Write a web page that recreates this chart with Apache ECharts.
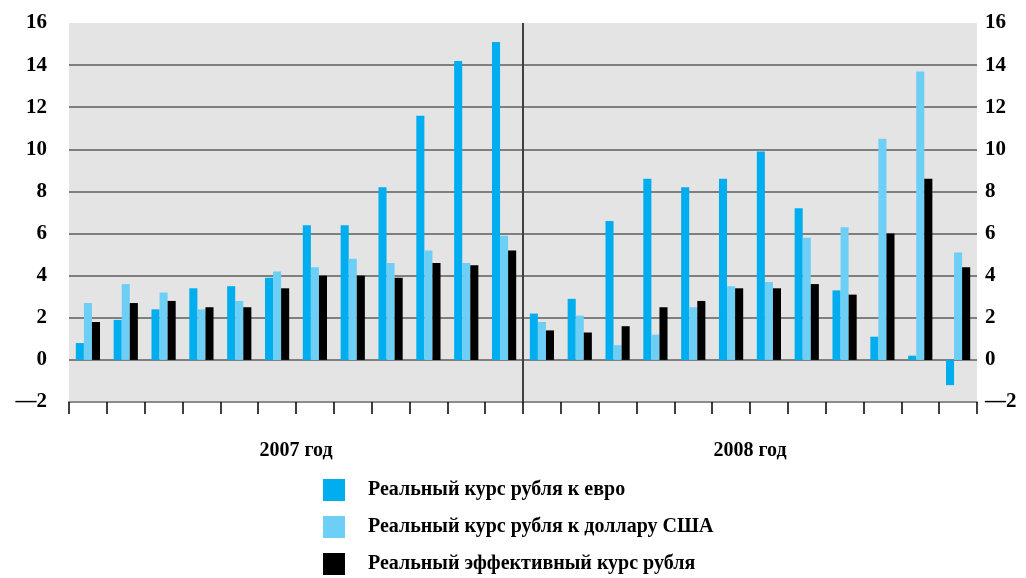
<!DOCTYPE html>
<html>
<head>
<meta charset="utf-8">
<script src="https://cdn.jsdelivr.net/npm/echarts@6/dist/echarts.min.js"></script>
<style>
  html, body { margin: 0; padding: 0; background: #fff; }
  #chart { width: 1026px; height: 578px; }
</style>
</head>
<body>
<div id="chart"></div>
<script>
// месяцы 2007–2008
const months = [
  "янв.07", "фев.07", "мар.07", "апр.07", "май.07", "июн.07",
  "июл.07", "авг.07", "сен.07", "окт.07", "ноя.07", "дек.07",
  "янв.08", "фев.08", "мар.08", "апр.08", "май.08", "июн.08",
  "июл.08", "авг.08", "сен.08", "окт.08", "ноя.08", "дек.08"
];
const years = ["2007 год", "2008 год"];
const seriesNames = [
  "Реальный курс рубля к евро",
  "Реальный курс рубля к доллару США",
  "Реальный эффективный курс рубля"
];
const euro = [0.8, 1.9, 2.4, 3.4, 3.5, 3.9, 6.4, 6.4, 8.2, 11.6, 14.2, 15.1,
  2.2, 2.9, 6.6, 8.6, 8.2, 8.6, 9.9, 7.2, 3.3, 1.1, 0.2, -1.2];
const usd = [2.7, 3.6, 3.2, 2.4, 2.8, 4.2, 4.4, 4.8, 4.6, 5.2, 4.6, 5.9,
  1.8, 2.1, 0.7, 1.2, 2.5, 3.5, 3.7, 5.8, 6.3, 10.5, 13.7, 5.1];
const effective = [1.8, 2.7, 2.8, 2.5, 2.5, 3.4, 4.0, 4.0, 3.9, 4.6, 4.5, 5.2,
  1.4, 1.3, 1.6, 2.5, 2.8, 3.4, 3.4, 3.6, 3.1, 6.0, 8.6, 4.4];

const colors = ["#00aeef", "#6dcff6", "#000000"];
const font = "'Liberation Serif', 'DejaVu Serif', serif";

let chart = echarts.init(document.getElementById("chart"));

const yLabel = {
  fontFamily: font,
  fontWeight: "bold",
  fontSize: 21,
  color: "#000",
  formatter: function (v) { return v < 0 ? "—" + Math.abs(v) : String(v); }
};

// серые линии сетки, кроме верхней (16)
const gridColors = ["#8c8c8c", "#7f7f7f", "#7f7f7f", "#7f7f7f", "#7f7f7f",
  "#7f7f7f", "#7f7f7f", "#7f7f7f", "#7f7f7f", "rgba(0,0,0,0)"];

chart.setOption({
  animation: false,
  color: colors,
  textStyle: { fontFamily: font },
  grid: {
    left: 69, right: 49, top: 23, bottom: 176,
    show: true, backgroundColor: "#e4e4e4", borderWidth: 0, borderColor: "rgba(0,0,0,0)"
  },
  legend: {
    orient: "vertical",
    left: 323, top: 479, height: 110,
    padding: 0,
    itemWidth: 22, itemHeight: 22, itemGap: 15,
    icon: "rect",
    textStyle: { fontFamily: font, fontWeight: "bold", fontSize: 20, color: "#000", padding: [0, 0, 0, 18] },
    data: seriesNames
  },
  xAxis: [
    {
      type: "category",
      data: months,
      axisLine: { onZero: false, lineStyle: { color: "#8c8c8c", width: 2 } },
      axisTick: { show: true, interval: 0, inside: false, length: 12, lineStyle: { color: "#000", width: 1.5 } },
      axisLabel: { show: false, interval: 0 },
      splitLine: { show: false }
    },
    {
      type: "category",
      data: years,
      position: "bottom",
      axisLine: { show: false },
      axisTick: { show: false },
      axisLabel: {
        margin: 39,
        fontFamily: font, fontWeight: "bold", fontSize: 20, color: "#000"
      }
    }
  ],
  yAxis: [
    {
      type: "value", min: -2, max: 16, interval: 2,
      position: "left",
      axisLine: { show: false },
      axisTick: { show: false },
      axisLabel: Object.assign({ margin: 22 }, yLabel),
      splitLine: { show: true, lineStyle: { color: gridColors, width: 2 } }
    },
    {
      type: "value", min: -2, max: 16, interval: 2,
      position: "right",
      axisLine: { show: false },
      axisTick: { show: false },
      axisLabel: Object.assign({ margin: 8 }, yLabel),
      splitLine: { show: false }
    }
  ],
  series: [
    { name: seriesNames[0], type: "bar", data: euro, barGap: "0%", barCategoryGap: "36%" },
    { name: seriesNames[1], type: "bar", data: usd, barGap: "0%", barCategoryGap: "36%" },
    { name: seriesNames[2], type: "bar", data: effective, barGap: "0%", barCategoryGap: "36%" }
  ]
});

// вертикальный разделитель между 2007 и 2008 годами
const yTop = chart.convertToPixel({ yAxisIndex: 0 }, 16);
const yBottom = chart.convertToPixel({ yAxisIndex: 0 }, -2);
const xA = chart.convertToPixel({ xAxisIndex: 0 }, months[11]);
const xB = chart.convertToPixel({ xAxisIndex: 0 }, months[12]);
const xMid = (xA + xB) / 2;
chart.setOption({
  graphic: [{
    type: "line",
    shape: { x1: xMid, y1: yTop, x2: xMid, y2: yBottom },
    style: { stroke: "#404040", lineWidth: 2 },
    z: 10
  }]
});
</script>
</body>
</html>
